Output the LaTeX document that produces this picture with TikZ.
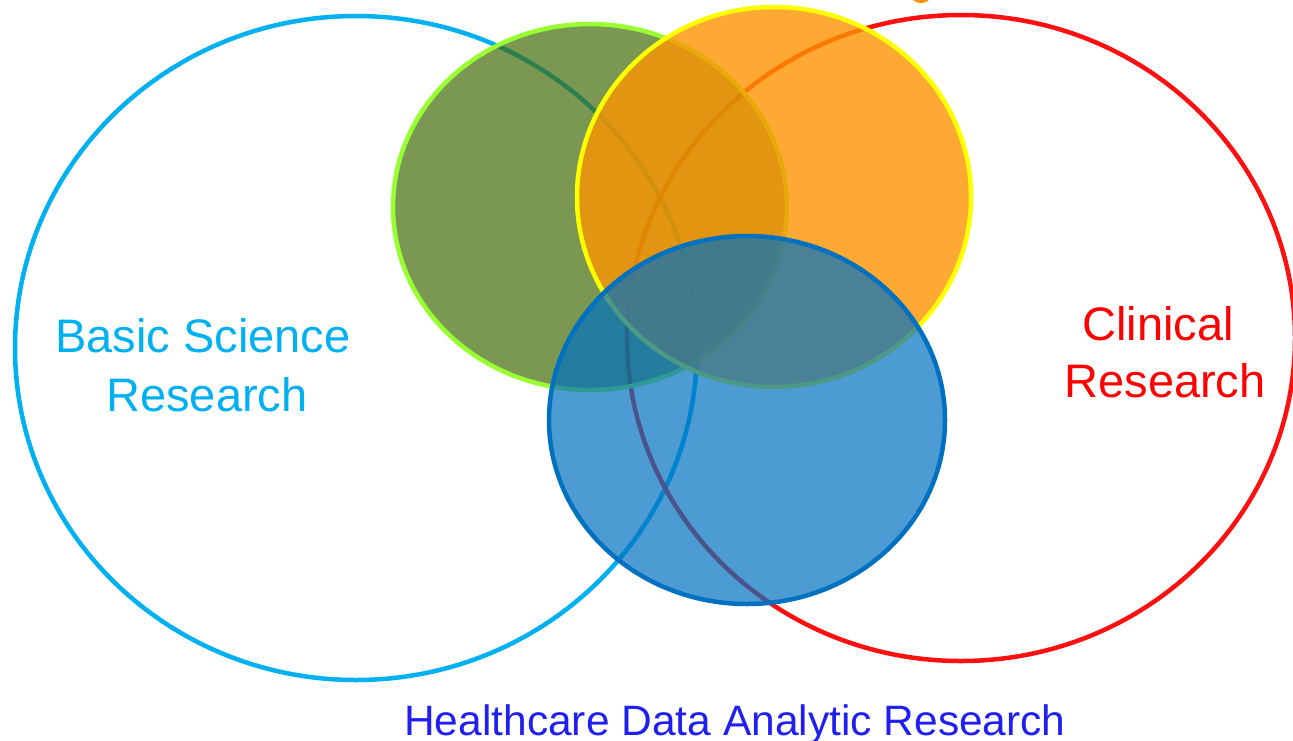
\documentclass[tikz,border=0pt]{standalone}
\usepackage{fontspec}
\setmainfont{Liberation Sans}
\definecolor{basicblue}{RGB}{0,176,240}
\definecolor{clinred}{RGB}{255,16,16}
\definecolor{grnfill}{RGB}{65,108,9}
\definecolor{grnline}{RGB}{153,255,51}
\definecolor{orgfill}{RGB}{252,148,0}
\definecolor{yelline}{RGB}{255,255,0}
\definecolor{hfill}{RGB}{0,112,192}
\definecolor{htext}{RGB}{31,31,240}
\tikzset{
  ring/.style={line width=4.5pt},
  big/.style={font=\fontsize{47}{56}\selectfont, inner sep=0pt, anchor=base},
  bottomtxt/.style={font=\fontsize{42.5}{50}\selectfont, inner sep=0pt, anchor=base, text=htext},
}
\begin{document}
\begin{tikzpicture}[x=1pt,y=-1pt]
\useasboundingbox (0,0) rectangle (1293,740);
% small orange mark at the top edge
\fill[orgfill] (921,-3) ellipse [x radius=9, y radius=6];
% outline ellipses
\draw[ring, basicblue] (356,348) ellipse [x radius=341, y radius=332];
\draw[ring, clinred] (961,338) ellipse [x radius=334, y radius=323];
% filled ellipses
\filldraw[ring, draw=grnline, fill=grnfill, fill opacity=0.7] (590,207) ellipse [x radius=197, y radius=183];
\filldraw[ring, draw=yelline, fill=orgfill, fill opacity=0.8] (774,197) ellipse [x radius=197, y radius=190];
\filldraw[ring, draw=hfill, fill=hfill, fill opacity=0.7] (747,420) ellipse [x radius=198, y radius=184];
% labels
\node[big, text=basicblue] (bs1) at (203,352) {Basic Science};
\node[big, text=basicblue] (bs2) at (207,411) {Research};
\node[big, text=red] (cl1) at (1158,340) {Clinical};
\node[big, text=red] (cl2) at (1165,397) {Research};
\node[bottomtxt] (hd) at (735,735) {Healthcare Data Analytic Research};
\end{tikzpicture}
\end{document}
